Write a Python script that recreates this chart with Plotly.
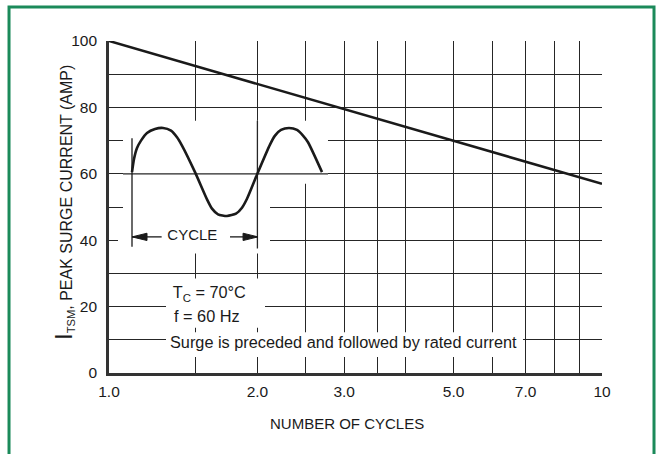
import plotly.graph_objects as go

# ---- data ----
cycles = [1.0, 2.0, 3.0, 5.0, 10.0]
peak_current = [100.0, 87.0, 79.5, 70.0, 57.0]

x_tick_vals = [1, 2, 3, 5, 7, 10]
x_tick_text = ["1.0", "2.0", "3.0", "5.0", "7.0", "10"]
x_minor_vals = [1.5, 2.5, 3.5, 4, 6, 8, 9]
y_tick_vals = [0, 20, 40, 60, 80, 100]
y_tick_text = ["0", "20", "40", "60", "80", "100"]
y_minor_vals = [10, 30, 50, 70, 90]

# inset waveform (illustration)
wave_x = [1.1134, 1.1239, 1.1397, 1.1612, 1.1942, 1.2397, 1.2869, 1.3359, 1.3738,
          1.4063, 1.4943, 1.5805, 1.6178, 1.6638, 1.7352, 1.8097, 1.8611, 1.9051,
          2.0056, 2.1212, 2.1713, 2.2330, 2.3180, 2.4063, 2.4746, 2.5331, 2.7043]
wave_y = [60.5, 64.5, 67.8, 70.0, 72.3, 73.5, 73.8, 73.0, 71.0,
          68.5, 60.5, 52.3, 49.5, 47.8, 47.3, 48.0, 49.8, 52.5,
          60.5, 68.8, 71.5, 73.2, 73.8, 73.2, 71.5, 69.5, 60.5]

# white mask regions behind the inset
maskA_x = [1.0676, 2.7808, 2.7808, 2.1212, 2.1212, 1.0429, 1.0429, 1.0676, 1.0676]
maskA_y = [76, 76, 57, 57, 36, 36, 45, 45, 76]
maskB1_x = [1.3050, 2.0723, 2.0723, 1.3050, 1.3050]
maskB1_y = [28.5, 28.5, 13.6, 13.6, 28.5]
maskB2_x = [1.3050, 6.914, 6.914, 1.3050, 1.3050]
maskB2_y = [12.3, 12.3, 4.8, 4.8, 12.3]

baseline_x = [1.0676, 2.7808]
baseline_y = [60, 60]
marker2_x = [2.0, 2.0]
marker2_y = [37.5, 76]
marker1_x = [1.1134, 1.1134]
marker1_y = [38, 70.7]

arrowL_x = [1.1134, 1.2788]
arrowR_x = [1.7598, 2.0056]
arrow_y = [41, 41]
headL_x = [1.1134, 1.1942, 1.1942, 1.1134]
headL_y = [41, 42.1, 39.9, 41]
headR_x = [2.0056, 1.8703, 1.8703, 2.0056]
headR_y = [41, 42.1, 39.9, 41]

FONT = "Liberation Sans Narrow, Arial Narrow, Liberation Sans, Arial, sans-serif"
INK = "#1a1a1a"
GRID = "#262626"

fig = go.Figure()

for mx, my in [(maskA_x, maskA_y), (maskB1_x, maskB1_y), (maskB2_x, maskB2_y)]:
    fig.add_trace(go.Scatter(x=mx, y=my, mode="lines", fill="toself",
                             fillcolor="white", line=dict(width=0, color="white"),
                             hoverinfo="skip", showlegend=False))

for lx, ly in [(baseline_x, baseline_y), (marker2_x, marker2_y)]:
    fig.add_trace(go.Scatter(x=lx, y=ly, mode="lines", line=dict(color=GRID, width=1.3),
                             hoverinfo="skip", showlegend=False))

fig.add_trace(go.Scatter(x=marker1_x, y=marker1_y, mode="lines", line=dict(color=INK, width=1.3),
                         hoverinfo="skip", showlegend=False))

# main curve
fig.add_trace(go.Scatter(x=cycles, y=peak_current, mode="lines",
                         line=dict(color=INK, width=2.6), showlegend=False))

# waveform
fig.add_trace(go.Scatter(x=wave_x, y=wave_y, mode="lines",
                         line=dict(color=INK, width=2.6, shape="spline", smoothing=0.6),
                         hoverinfo="skip", showlegend=False))

for ax_ in [arrowL_x, arrowR_x]:
    fig.add_trace(go.Scatter(x=ax_, y=arrow_y, mode="lines", line=dict(color=INK, width=1.3),
                             hoverinfo="skip", showlegend=False))
for hx, hy in [(headL_x, headL_y), (headR_x, headR_y)]:
    fig.add_trace(go.Scatter(x=hx, y=hy, mode="lines", fill="toself", fillcolor=INK,
                             line=dict(color=INK, width=1), hoverinfo="skip", showlegend=False))

# texts
fig.add_trace(go.Scatter(x=[1.4760], y=[41.2], mode="text", text=["CYCLE"],
                         textposition="middle center", textfont=dict(family=FONT, size=15, color=INK),
                         hoverinfo="skip", showlegend=False))
fig.add_trace(go.Scatter(x=[1.3466, 1.3548, 1.3297], y=[23.7, 16.5, 8.8], mode="text",
                         text=["T<sub>C</sub> = 70°C", "f = 60 Hz",
                               "Surge is preceded and followed by rated current"],
                         textposition="middle right", textfont=dict(family=FONT, size=16.3, color=INK),
                         hoverinfo="skip", showlegend=False))

fig.update_xaxes(type="log", range=[0, 1], tickmode="array", tickvals=x_tick_vals, ticktext=x_tick_text,
                 showgrid=True, gridcolor=GRID, gridwidth=1.3, zeroline=False,
                 minor=dict(tickmode="array", tickvals=x_minor_vals, showgrid=True,
                            gridcolor=GRID, gridwidth=1.3, ticks=""),
                 showline=True, linecolor="#333333", linewidth=2.6,
                 ticks="outside", ticklen=3, tickcolor="rgba(0,0,0,0)",
                 tickfont=dict(family=FONT, size=15.5, color=INK))
fig.update_yaxes(range=[0, 100], tickmode="array", tickvals=y_tick_vals, ticktext=y_tick_text,
                 showgrid=True, gridcolor=GRID, gridwidth=1.3, zeroline=False,
                 minor=dict(tickmode="array", tickvals=y_minor_vals, showgrid=True,
                            gridcolor=GRID, gridwidth=1.3, ticks=""),
                 showline=True, linecolor="#333333", linewidth=2.6,
                 ticks="outside", ticklen=6, tickcolor="rgba(0,0,0,0)",
                 tickfont=dict(family=FONT, size=15.5, color=INK))

fig.update_layout(
    width=657, height=454,
    margin=dict(l=109, r=55, t=41, b=81),
    paper_bgcolor="white", plot_bgcolor="white",
    showlegend=False,
    shapes=[dict(type="rect", xref="paper", yref="paper",
                 x0=-0.2028, x1=1.1055, y0=-0.27, y1=1.1024,
                 line=dict(color="#1b8a5a", width=3), fillcolor="rgba(0,0,0,0)")],
    annotations=[
        dict(text="NUMBER OF CYCLES", xref="paper", yref="paper", x=0.4828, y=(373 - 424) / 332,
             showarrow=False, xanchor="center", yanchor="middle",
             font=dict(family=FONT, size=15, color=INK)),
        dict(text="<span style='font-size:24px'>I</span><sub>TSM</sub>, PEAK SURGE CURRENT (AMP)",
             xref="paper", yref="paper", x=(63 - 109) / 493, y=(373 - 203) / 332,
             textangle=-90, showarrow=False, xanchor="center", yanchor="middle",
             font=dict(family=FONT, size=16, color=INK)),
    ],
)

fig.write_html("out.html")
